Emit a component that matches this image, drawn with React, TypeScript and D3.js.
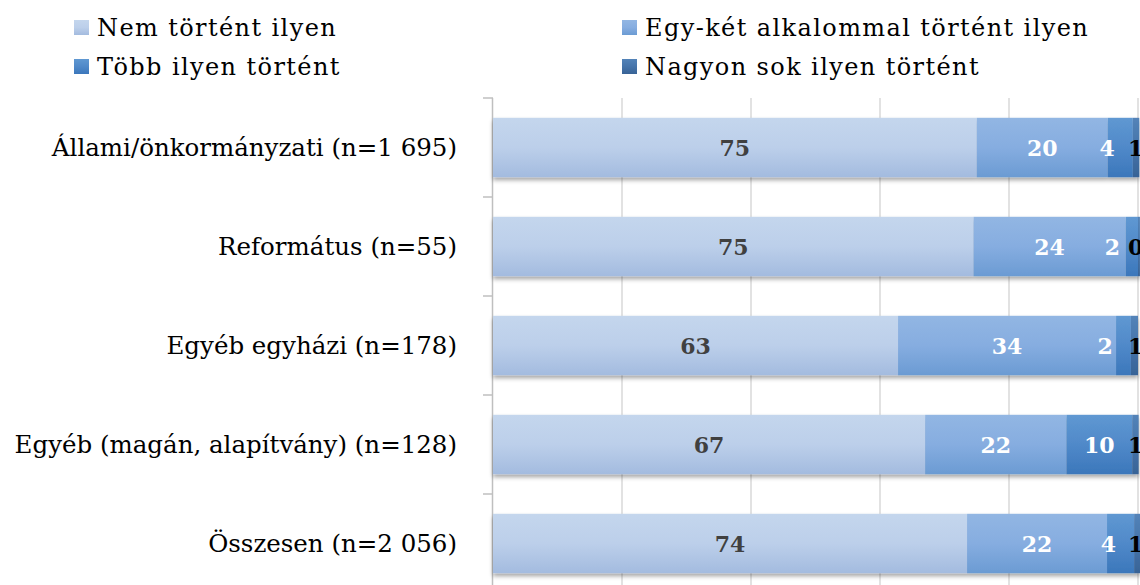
import React from "react"
import * as d3 from "d3"

const categories = [
  "Állami/önkormányzati (n=1 695)",
  "Református (n=55)",
  "Egyéb egyházi (n=178)",
  "Egyéb (magán, alapítvány) (n=128)",
  "Összesen (n=2 056)",
]
const seriesNames = [
  "Nem történt ilyen",
  "Egy-két alkalommal történt ilyen",
  "Több ilyen történt",
  "Nagyon sok ilyen történt",
]
const nemTortent = [75.0, 74.5, 62.8, 67.0, 73.5]
const egyKet = [20.3, 23.6, 33.8, 21.9, 21.7]
const tobb = [3.9, 1.9, 2.3, 10.2, 4.2]
const nagyonSok = [1.0, 0.3, 1.1, 1.0, 1.0]
const xTicks = [0, 20, 40, 60, 80, 100]

const gradients = [
  ["#c4d6ed", "#bccfea", "#a3bbdf"],
  ["#92b6e3", "#86ade0", "#6b9bd3"],
  ["#5f98d2", "#5089c9", "#3b77bb"],
  ["#5383b8", "#4674aa", "#386396"],
]
const labelColors = ["#404040", "#ffffff", "#ffffff", "#000000"]
const font = "'DejaVu Serif', serif"

function App() {
  const width = 1140
  const height = 585

  const rows = categories.map((c, i) => ({
    cat: c,
    s0: nemTortent[i],
    s1: egyKet[i],
    s2: tobb[i],
    s3: nagyonSok[i],
  }))
  const keys = ["s0", "s1", "s2", "s3"]
  const stacked = d3.stack<any>().keys(keys)(rows)

  const x = d3.scaleLinear().domain([0, 100]).range([493, 1138])
  const y = d3
    .scaleBand<string>()
    .domain(categories)
    .range([98, 593])
    .paddingInner(0.4)
    .paddingOuter(0.2)
  const step = y.step()
  const top = 98

  return (
    <div style={{ position: "fixed", left: 0, top: 0 }}>
      <svg width={width} height={height} style={{ display: "block", background: "#fff" }}>
        <defs>
          {gradients.map((g, i) => (
            <linearGradient key={i} id={`grad${i}`} x1="0" y1="0" x2="0" y2="1">
              <stop offset="0%" stopColor={g[0]} />
              <stop offset="50%" stopColor={g[1]} />
              <stop offset="100%" stopColor={g[2]} />
            </linearGradient>
          ))}
          <filter id="shadow" x="-5%" y="-20%" width="110%" height="160%">
            <feDropShadow dx="0" dy="3" stdDeviation="2" floodColor="#000" floodOpacity="0.35" />
          </filter>
        </defs>

        {/* gridlines */}
        {xTicks.slice(1).map((t) => (
          <line key={t} x1={x(t)} x2={x(t)} y1={top} y2={height} stroke="#d9d9d9" strokeWidth={1.5} />
        ))}

        {/* category axis */}
        <line x1={x(0) - 0.5} x2={x(0) - 0.5} y1={top} y2={height} stroke="#bfbfbf" strokeWidth={1.5} />
        {d3.range(categories.length + 1).map((i) => (
          <line
            key={i}
            x1={x(0) - 10}
            x2={x(0)}
            y1={top + i * step}
            y2={top + i * step}
            stroke="#bfbfbf"
            strokeWidth={1.5}
          />
        ))}
        {categories.map((c) => (
          <text
            key={c}
            x={457}
            y={(y(c) as number) + y.bandwidth() / 2}
            textAnchor="end"
            dominantBaseline="central"
            fontFamily={font}
            fontSize={24.5}
            fill="#000"
          >
            {c}
          </text>
        ))}

        {/* bars */}
        {categories.map((c, ci) => (
          <g key={c} filter="url(#shadow)">
            {stacked.map((s, si) => {
              const d = s[ci]
              return (
                <rect
                  key={si}
                  x={x(d[0])}
                  y={y(c)}
                  width={Math.max(0, x(d[1]) - x(d[0]))}
                  height={y.bandwidth()}
                  fill={`url(#grad${si})`}
                />
              )
            })}
          </g>
        ))}

        {/* data labels */}
        {categories.map((c, ci) =>
          stacked.map((s, si) => {
            const d = s[ci]
            const x0 = x(d[0])
            const x1 = x(d[1])
            const v = d[1] - d[0]
            let lx = (x0 + x1) / 2
            let anchor = "middle"
            if (si === 3) {
              lx = x(100) - 10
              anchor = "start"
            } else if (x1 - x0 < 40) {
              lx = x1 - 18
              anchor = "end"
            }
            return (
              <text
                key={`${ci}-${si}`}
                x={lx}
                y={(y(c) as number) + y.bandwidth() / 2}
                textAnchor={anchor}
                dominantBaseline="central"
                fontFamily={font}
                fontWeight="bold"
                fontSize={22}
                fill={labelColors[si]}
              >
                {Math.round(v)}
              </text>
            )
          })
        )}

        {/* legend */}
        {seriesNames.map((n, i) => {
          const lx = i % 2 === 0 ? 74 : 622
          const ly = 28 + Math.floor(i / 2) * 39
          return (
            <g key={n}>
              <rect x={lx} y={ly - 8} width={15} height={15} fill={`url(#grad${i})`} />
              <text
                x={lx + 23}
                y={ly}
                dominantBaseline="central"
                fontFamily={font}
                fontSize={24}
                letterSpacing={1.4}
                fill="#000"
              >
                {n}
              </text>
            </g>
          )
        })}
      </svg>
    </div>
  )
}

export default App
